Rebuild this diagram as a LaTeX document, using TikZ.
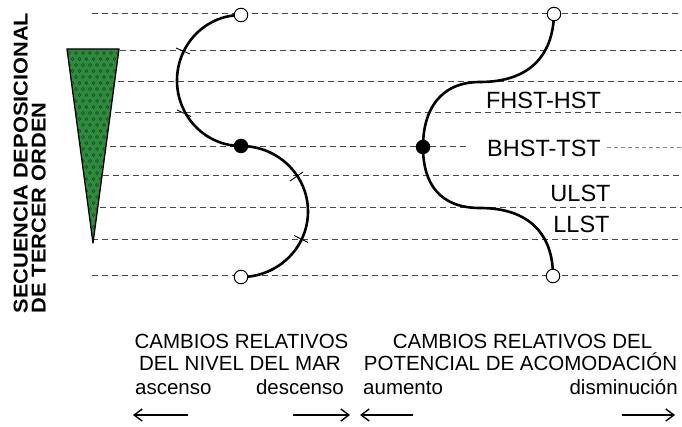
\documentclass[tikz,border=0pt]{standalone}
\usepackage{fontspec}
\setmainfont{Liberation Sans}
\usepackage{graphicx}
\usetikzlibrary{arrows.meta}
\definecolor{trigreen}{RGB}{46,139,62}
\definecolor{dotgreen}{RGB}{18,70,30}
\tikzset{
  guide/.style={draw=black!72, dash pattern=on 6pt off 4pt, line width=1pt},
  guidelight/.style={draw=black!45, dash pattern=on 4pt off 3pt, line width=0.9pt},
  curve/.style={line width=2.6pt, draw=black},
  opendot/.style={circle, draw=black, line width=1pt, fill=white, minimum size=13.5pt, inner sep=0pt},
  fulldot/.style={circle, fill=black, minimum size=14.5pt, inner sep=0pt},
  tickmark/.style={line width=0.9pt, draw=black},
  lbl/.style={font=\fontsize{20.5}{24}\selectfont, inner sep=0pt},
  seq/.style={font=\fontsize{23.5}{28}\selectfont, inner sep=0pt},
  vert/.style={font=\fontsize{20}{23}\selectfont\bfseries, rotate=90, inner sep=0pt, anchor=base},
  arr/.style={line width=1.4pt, -{Straight Barb[length=8pt,width=12pt]}},
}
\begin{document}
\begin{tikzpicture}[x=1pt,y=-1pt]
\useasboundingbox (0,0) rectangle (682,427);

% dashed guide lines
\foreach \yy/\xs in {14/92, 51/120, 82/118, 113/115, 176/103, 208/100, 240/92, 276/92}
  \draw[guide] (\xs,\yy) -- (682,\yy);
\draw[guide] (110,147) -- (470,147);
\draw[guidelight] (607,147) -- (682,147);

% triangle
\begin{scope}
  \clip (67,49) -- (119,49) -- (93,243) -- cycle;
  \fill[trigreen] (60,45) rectangle (125,250);
  \foreach \r in {0,...,16}{
    \foreach \c in {0,...,9}{
      \draw[dotgreen, line width=0.6pt] ({62+\c*7},{53+\r*12}) circle (1.5);
      \draw[dotgreen, line width=0.6pt] ({65.5+\c*7},{59+\r*12}) circle (1.5);
    }
  }
\end{scope}
\draw[line width=1.3pt, line join=round] (67,49) -- (119,49) -- (93,243) -- cycle;

% left curve (sea level)
\coordinate (lt) at (241,15);
\coordinate (lm) at (241,146);
\coordinate (lb) at (241,277);
\draw[curve] (lt) .. controls (205.7,15) and (177,44.3) .. (177,80.5)
  .. controls (177,116.7) and (205.7,146) .. (lm)
  .. controls (278,146) and (308,175.3) .. (308,211.5)
  .. controls (308,247.7) and (278,277) .. (lb);
\draw[tickmark] (176,48) -- (190,54);
\draw[tickmark] (177,110) -- (191,116.5);
\draw[tickmark] (290,181) -- (303,172);
\draw[tickmark] (294,235.5) -- (308,242.5);
\node[opendot] (ltn) at (lt) {};
\node[fulldot] (lmn) at (lm) {};
\node[opendot] (lbn) at (lb) {};

% right curve (accommodation)
\coordinate (rt) at (554,14);
\coordinate (rm) at (423,147);
\coordinate (rb) at (553,276);
\draw[curve] (rt) .. controls (553,55) and (530,82) .. (480,82)
  .. controls (440,82) and (423,110) .. (rm)
  .. controls (423,184) and (440,208) .. (480,208)
  .. controls (530,208) and (553,235) .. (rb);
\node[opendot] (rtn) at (rt) {};
\node[fulldot] (rmn) at (rm) {};
\node[opendot] (rbn) at (rb) {};

% systems tract labels
\node[seq, anchor=base] (fhst) at (543.5,109) {FHST-HST};
\node[seq, anchor=base] (bhst) at (544,157) {BHST-TST};
\node[seq, anchor=base] (ulst) at (580.5,201.5) {ULST};
\node[seq, anchor=base] (llst) at (581.5,233) {LLST};

% vertical title
\node[vert] (v1) at (27.5,163) {\scalebox{1.09}[1]{SECUENCIA DEPOSICIONAL}};
\node[vert] (v2) at (45.5,208) {\scalebox{1.09}[1]{DE TERCER ORDEN}};

% bottom labels
\node[lbl, anchor=base] (c1) at (241.5,348) {CAMBIOS RELATIVOS};
\node[lbl, anchor=base] (c2) at (240,370) {DEL NIVEL DEL MAR};
\node[lbl, anchor=base west] (asc) at (135,394.5) {ascenso};
\node[lbl, anchor=base east] (desc) at (344,394.5) {descenso};
\node[lbl, anchor=base] (p1) at (522.5,348) {CAMBIOS RELATIVOS DEL};
\node[lbl, anchor=base] (p2) at (520.5,370) {POTENCIAL DE ACOMODACIÓN};
\node[lbl, anchor=base west] (aum) at (363,394.5) {aumento};
\node[lbl, anchor=base east] (dis) at (678,394.5) {disminución};

% arrows
\coordinate (a1s) at (188,415); \coordinate (a1e) at (133,415);
\coordinate (a2s) at (293,415); \coordinate (a2e) at (350,415);
\coordinate (a3s) at (413,415); \coordinate (a3e) at (360,415);
\coordinate (a4s) at (622,415); \coordinate (a4e) at (675,415);
\draw[arr] (a1s) -- (a1e);
\draw[arr] (a2s) -- (a2e);
\draw[arr] (a3s) -- (a3e);
\draw[arr] (a4s) -- (a4e);
\end{tikzpicture}
\end{document}
